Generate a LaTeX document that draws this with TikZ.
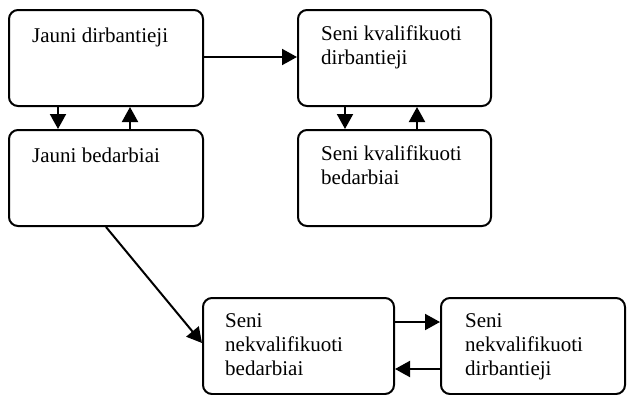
\documentclass[tikz,border=0pt]{standalone}
\usepackage{fontspec}
\setmainfont{Liberation Serif}
\usetikzlibrary{arrows.meta,calc}
\tikzset{
  box/.style={draw, line width=2pt, rounded corners=9pt, anchor=north west, inner sep=0pt},
  txt/.style={anchor=base west, inner sep=0pt, align=left, font=\fontsize{21}{24}\selectfont},
  arr/.style={line width=2pt, -{Triangle[length=15pt,width=16pt]}}
}
\begin{document}
\begin{tikzpicture}[x=1pt,y=-1pt]
\useasboundingbox (0,0) rectangle (627,394);
% boxes
\node[box, minimum width=194pt, minimum height=96pt] (a) at (8,9) {};
\node[box, minimum width=194pt, minimum height=96pt] (b) at (8,129) {};
\node[box, minimum width=193pt, minimum height=96pt] (c) at (297,9) {};
\node[box, minimum width=193pt, minimum height=96pt] (d) at (297,129) {};
\node[box, minimum width=191pt, minimum height=96pt] (e) at (202,297) {};
\node[box, minimum width=184pt, minimum height=96pt] (f) at (440,297) {};
% texts
\node[txt] (ta) at (32,42) {Jauni dirbantieji};
\node[txt] (tb) at (32,162) {Jauni bedarbiai};
\node[txt, anchor=north west] (tc) at (321,26) {Seni kvalifikuoti\\dirbantieji};
\node[txt, anchor=north west] (td) at (321,146) {Seni kvalifikuoti\\bedarbiai};
\node[txt, anchor=north west] (te) at (225,313) {Seni\\nekvalifikuoti\\bedarbiai};
\node[txt, anchor=north west] (tf) at (465,313) {Seni\\nekvalifikuoti\\dirbantieji};
% connectors
\draw[arr] (a.south west -| 58,0) -- (b.north west -| 58,0);
\draw[arr] (b.north west -| 130,0) -- (a.south west -| 130,0);
\draw[arr] (d.north west -| 417,0) -- (c.south west -| 417,0);
\draw[arr] (c.south west -| 345,0) -- (d.north west -| 345,0);
\draw[arr] (a.north east |- 0,57) -- (c.north west |- 0,57);
\draw[arr] (e.north east |- 0,322) -- (f.north west |- 0,322);
\draw[arr] (f.north west |- 0,369) -- (e.north east |- 0,369);
\draw[arr] (b.south west -| 106,0) -- (e.north west |- 0,343);
\end{tikzpicture}
\end{document}
